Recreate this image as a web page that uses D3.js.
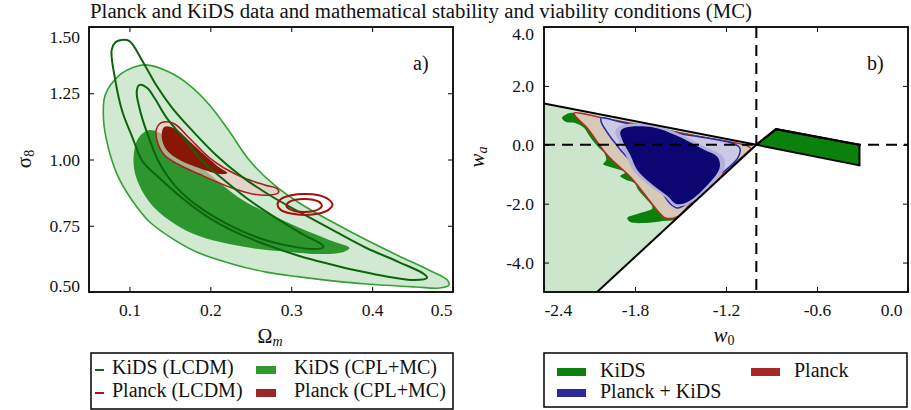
<!DOCTYPE html>
<html lang="en">
<head>
<meta charset="UTF-8">
<title>Planck and KiDS data</title>
<script src="https://cdn.jsdelivr.net/npm/d3@7/dist/d3.min.js"></script>
<style>
  body { margin: 0; background: #fff; }
  svg text { font-family: "Liberation Serif", "Times New Roman", serif; fill: #111; }
  .axis path { display: none; }
  .axis line { stroke: #000; stroke-width: 1; }
  .axis text { font-size: 17.5px; font-family: "Liberation Serif", serif; }
</style>
</head>
<body>
<script>
// ---- panel a) : Omega_m vs sigma_8 ----
var omTicks = [0.1, 0.2, 0.3, 0.4, 0.5];
var s8Ticks = [0.5, 0.75, 1.0, 1.25, 1.5];

// KiDS (CPL+MC) 95% / 68%
var kidsCplOuter = [[0.121,1.357],[0.149,1.330],[0.174,1.281],[0.199,1.206],[0.224,1.104],[0.248,0.998],[0.279,0.904],[0.310,0.836],[0.351,0.764],[0.393,0.696],[0.433,0.636],[0.470,0.583],[0.493,0.545],[0.495,0.526],[0.483,0.515],[0.454,0.519],[0.393,0.530],[0.351,0.542],[0.310,0.557],[0.269,0.575],[0.227,0.606],[0.186,0.647],[0.156,0.696],[0.125,0.764],[0.103,0.847],[0.085,0.942],[0.073,1.055],[0.068,1.149],[0.070,1.243],[0.088,1.319],[0.106,1.349]];
var kidsCplInner = [[0.125,1.111],[0.143,1.092],[0.162,1.055],[0.180,0.998],[0.205,0.930],[0.236,0.855],[0.273,0.794],[0.310,0.742],[0.347,0.696],[0.372,0.666],[0.365,0.651],[0.335,0.643],[0.298,0.651],[0.260,0.662],[0.223,0.681],[0.186,0.711],[0.156,0.757],[0.131,0.817],[0.115,0.885],[0.106,0.960],[0.106,1.036],[0.112,1.085]];
// KiDS (LCDM) lines
var kidsLcdmOuter = [[0.090,1.451],[0.100,1.447],[0.116,1.372],[0.133,1.281],[0.153,1.194],[0.178,1.108],[0.207,1.017],[0.236,0.942],[0.273,0.866],[0.310,0.802],[0.351,0.734],[0.393,0.666],[0.433,0.613],[0.464,0.568],[0.468,0.553],[0.452,0.545],[0.421,0.557],[0.384,0.579],[0.347,0.606],[0.310,0.636],[0.273,0.674],[0.236,0.719],[0.199,0.779],[0.165,0.855],[0.137,0.930],[0.116,0.994],[0.104,1.081],[0.091,1.183],[0.082,1.308],[0.078,1.413],[0.083,1.443]];
var kidsLcdmInner = [[0.112,1.281],[0.122,1.270],[0.131,1.232],[0.146,1.157],[0.170,1.070],[0.190,0.994],[0.217,0.923],[0.248,0.847],[0.285,0.772],[0.316,0.715],[0.337,0.681],[0.340,0.670],[0.328,0.662],[0.298,0.674],[0.260,0.704],[0.223,0.753],[0.186,0.821],[0.159,0.892],[0.137,0.987],[0.125,1.074],[0.114,1.175],[0.109,1.255]];
// Planck (CPL+MC)
var planckCplOuter = [[0.143,1.142],[0.156,1.134],[0.174,1.081],[0.199,1.006],[0.217,0.968],[0.242,0.930],[0.267,0.904],[0.283,0.889],[0.284,0.874],[0.273,0.866],[0.252,0.870],[0.227,0.892],[0.186,0.945],[0.162,0.979],[0.143,1.017],[0.135,1.062],[0.133,1.111],[0.137,1.134]];
var planckCplInner = [[0.143,1.123],[0.157,1.115],[0.174,1.070],[0.193,1.017],[0.209,0.975],[0.221,0.949],[0.211,0.945],[0.186,0.968],[0.162,0.998],[0.146,1.036],[0.140,1.081]];
// Planck (LCDM) lines
var planckLcdmOuter = [[0.351,0.830],[0.346,0.850],[0.334,0.865],[0.317,0.870],[0.300,0.865],[0.287,0.850],[0.283,0.830],[0.287,0.810],[0.300,0.796],[0.317,0.791],[0.334,0.796],[0.346,0.810]];
var planckLcdmInner = [[0.338,0.826],[0.335,0.839],[0.327,0.848],[0.316,0.851],[0.305,0.848],[0.297,0.839],[0.294,0.826],[0.297,0.814],[0.305,0.805],[0.316,0.802],[0.327,0.805],[0.335,0.814]];

// ---- panel b) : w0 vs wa ----
var w0Ticks = [-2.4, -1.8, -1.2, -0.6, 0.0];
var waTicks = [-4, -2, 0, 2, 4];
var mcUpper = [[-2.4,1.4],[-1.0,0.0],[-0.87,0.53],[-0.32,0.0]];
var mcLower = [[-1.0,0.0],[-2.05,-5.0]];
var mcRegion = [[-2.4,1.4],[-1.0,0.0],[-2.05,-5.0],[-2.4,-5.0]];
var kidsRight = [[-1.0,0.0],[-0.87,0.53],[-0.32,0.0],[-0.32,-0.7]];
var kidsB = [[-2.281,0.909],[-2.228,1.079],[-2.029,0.909],[-1.070,-0.076],[-1.050,-0.178],[-1.500,-2.488],[-1.619,-2.590],[-1.732,-2.658],[-1.831,-2.624],[-1.851,-2.488],[-1.765,-2.318],[-1.685,-2.148],[-1.732,-1.808],[-1.778,-1.537],[-1.804,-1.299],[-1.857,-1.197],[-1.897,-1.061],[-1.857,-0.925],[-1.897,-0.857],[-1.963,-0.755],[-2.010,-0.654],[-1.990,-0.518],[-2.003,-0.280],[-2.043,-0.076],[-2.082,0.162],[-2.109,0.366],[-2.135,0.569],[-2.195,0.739],[-2.254,0.773]];
var planckB = [[-2.201,1.079],[-2.029,0.93],[-1.698,0.60],[-1.368,0.27],[-1.070,-0.02],[-1.037,-0.12],[-1.070,-0.30],[-1.235,-1.08],[-1.434,-2.0],[-1.520,-2.44],[-1.599,-2.488],[-1.632,-2.35],[-1.692,-1.978],[-1.824,-1.129],[-1.983,-0.348],[-2.115,0.569],[-2.188,0.943]];
var bothOuter = [[-2.023,0.909],[-1.897,0.773],[-1.500,0.37],[-1.162,0.06],[-1.109,-0.11],[-1.123,-0.45],[-1.295,-1.25],[-1.473,-2.046],[-1.520,-2.148],[-1.566,-2.01],[-1.672,-1.265],[-1.824,-0.586],[-1.957,0.230],[-2.023,0.773]];
var bothMid = [[-1.89,0.66],[-1.69,0.68],[-1.50,0.36],[-1.32,-0.12],[-1.22,-0.40],[-1.21,-0.80],[-1.32,-1.52],[-1.45,-2.02],[-1.53,-2.08],[-1.60,-1.78],[-1.72,-1.33],[-1.81,-0.88],[-1.86,-0.36],[-1.91,0.16],[-1.93,0.45]];
var bothInner = [[-1.871,0.569],[-1.692,0.603],[-1.520,0.30],[-1.341,-0.178],[-1.255,-0.42],[-1.242,-0.789],[-1.341,-1.469],[-1.454,-1.944],[-1.527,-2.01],[-1.586,-1.74],[-1.698,-1.30],[-1.785,-0.857],[-1.831,-0.348],[-1.884,0.162],[-1.897,0.43]];

// legends
var legendALabels = ["KiDS (LCDM)", "Planck (LCDM)", "KiDS (CPL+MC)", "Planck (CPL+MC)"];
var legendAColors = ["#0c650c", "#a51515", "#2e9a2e", "#9b2626"];
var legendBLabels = ["KiDS", "Planck + KiDS", "Planck"];
var legendBColors = ["#0b800b", "#2a2a9c", "#a52828"];

var W = 911, H = 410;
var svg = d3.select("body").append("svg").attr("width", W).attr("height", H);

svg.append("text").attr("x", 421).attr("y", 18).attr("text-anchor", "middle")
   .style("font-size", "20.8px")
   .text("Planck and KiDS data and mathematical stability and viability conditions (MC)");

var yTop = 27, yBot = 292;

//----- panel a -----
var xa = d3.scaleLinear().domain([0.05, 0.5]).range([89, 453]);
var ya = d3.scaleLinear().domain([0.5, 1.5]).range([yBot, yTop]);

svg.append("clipPath").attr("id", "clipA").append("rect")
   .attr("x", 89).attr("y", yTop).attr("width", 364).attr("height", yBot - yTop);
var pa = svg.append("g").attr("clip-path", "url(#clipA)");

var lineA = d3.line().x(function(d) { return xa(d[0]); }).y(function(d) { return ya(d[1]); })
              .curve(d3.curveCatmullRomClosed.alpha(0.5));

pa.append("path").attr("d", lineA(kidsCplOuter)).attr("fill", "#d0e9d0").attr("stroke", "#33a033").attr("stroke-width", 1.6);
pa.append("path").attr("d", lineA(kidsCplInner)).attr("fill", "#2e962e").attr("stroke", "none");
pa.append("path").attr("d", lineA(planckCplOuter)).attr("fill", "#f0c6c6").attr("fill-opacity", 0.6).attr("stroke", "#a82020").attr("stroke-width", 1.6);
pa.append("path").attr("d", lineA(planckCplInner)).attr("fill", "#8a1606").attr("stroke", "none");
[kidsLcdmOuter, kidsLcdmInner].forEach(function(c) {
  pa.append("path").attr("d", lineA(c)).attr("fill", "none").attr("stroke", "#0c650c").attr("stroke-width", 2);
});
[planckLcdmOuter, planckLcdmInner].forEach(function(c) {
  pa.append("path").attr("d", lineA(c)).attr("fill", "none").attr("stroke", "#a01010").attr("stroke-width", 2);
});

svg.append("rect").attr("x", 89).attr("y", yTop).attr("width", 364).attr("height", yBot - yTop)
   .attr("fill", "none").attr("stroke", "#000").attr("stroke-width", 1.8);

var axA = svg.append("g").attr("class", "axis").attr("transform", "translate(0," + yBot + ")")
   .call(d3.axisBottom(xa).tickValues(omTicks).tickFormat(function(d) { return d.toFixed(1); })
         .tickSizeInner(-5).tickSizeOuter(0).tickPadding(12));
axA.selectAll(".tick text").filter(function(d) { return d === 0.5; }).attr("text-anchor", "end").attr("dx", -1);
svg.append("g").attr("class", "axis").attr("transform", "translate(0," + yTop + ")")
   .call(d3.axisTop(xa).tickValues(omTicks.slice(0, 4)).tickFormat("").tickSizeInner(-5).tickSizeOuter(0));
var ayA = svg.append("g").attr("class", "axis").attr("transform", "translate(89,0)")
   .call(d3.axisLeft(ya).tickValues(s8Ticks).tickFormat(function(d) { return d.toFixed(2); })
         .tickSizeInner(-5).tickSizeOuter(0).tickPadding(9));
ayA.selectAll(".tick text").filter(function(d) { return d === 1.5; }).attr("dy", "15px");
ayA.selectAll(".tick text").filter(function(d) { return d === 0.5; }).attr("dy", "-1px");
svg.append("g").attr("class", "axis").attr("transform", "translate(453,0)")
   .call(d3.axisRight(ya).tickValues([0.75, 1.0, 1.25]).tickFormat("").tickSizeInner(-5).tickSizeOuter(0));

svg.append("text").attr("x", 413).attr("y", 70).style("font-size", "20px").text("a)");

var omLab = svg.append("text").attr("x", 270).attr("y", 343).attr("text-anchor", "middle").style("font-size", "20px");
omLab.append("tspan").text("Ω");
omLab.append("tspan").attr("font-style", "italic").attr("font-size", "14px").attr("dy", 3).text("m");

var s8Lab = svg.append("text").attr("transform", "translate(31,159) rotate(-90)").attr("text-anchor", "middle").style("font-size", "21px");
s8Lab.append("tspan").text("σ");
s8Lab.append("tspan").attr("font-size", "14px").attr("dy", 3).text("8");

//----- panel b -----
var xb = d3.scaleLinear().domain([-2.4, 0]).range([544, 908]);
var yb = d3.scaleLinear().domain([-5, 4]).range([yBot, yTop]);

var lineB = d3.line().x(function(d) { return xb(d[0]); }).y(function(d) { return yb(d[1]); });
var smoothB = d3.line().x(function(d) { return xb(d[0]); }).y(function(d) { return yb(d[1]); })
                .curve(d3.curveCatmullRomClosed.alpha(0.5));

svg.append("clipPath").attr("id", "clipB").append("rect")
   .attr("x", 544).attr("y", yTop).attr("width", 364).attr("height", yBot - yTop);
svg.append("clipPath").attr("id", "clipMC").append("path").attr("d", lineB(mcRegion) + "Z");
var pb = svg.append("g").attr("clip-path", "url(#clipB)");

pb.append("path").attr("d", lineB(mcRegion) + "Z").attr("fill", "#cce6cc");
var pc = pb.append("g").attr("clip-path", "url(#clipMC)");
pc.append("path").attr("d", smoothB(kidsB)).attr("fill", "#0b800b");
pc.append("path").attr("d", smoothB(planckB)).attr("fill", "#d6c9b6").attr("stroke", "#b02a2a").attr("stroke-width", 1.5);
pc.append("path").attr("d", smoothB(bothOuter)).attr("fill", "#cbc9e4").attr("stroke", "#2a2aa8").attr("stroke-width", 1.5);
pc.append("path").attr("d", smoothB(bothMid)).attr("fill", "#b3afda");
pc.append("path").attr("d", smoothB(bothInner)).attr("fill", "#0c0672");

pb.append("line").attr("x1", xb(-2.4)).attr("x2", xb(0)).attr("y1", yb(0)).attr("y2", yb(0))
  .attr("stroke", "#000").attr("stroke-width", 2).attr("stroke-dasharray", "11,7");
pb.append("line").attr("x1", xb(-1)).attr("x2", xb(-1)).attr("y1", yb(4)).attr("y2", yb(-5))
  .attr("stroke", "#000").attr("stroke-width", 2).attr("stroke-dasharray", "11,7");

pb.append("path").attr("d", lineB(kidsRight) + "Z").attr("fill", "#0b800b").attr("stroke", "#000").attr("stroke-width", 2);
pb.append("path").attr("d", lineB(mcUpper)).attr("fill", "none").attr("stroke", "#000").attr("stroke-width", 2);
pb.append("path").attr("d", lineB(mcLower)).attr("fill", "none").attr("stroke", "#000").attr("stroke-width", 2);

svg.append("rect").attr("x", 544).attr("y", yTop).attr("width", 364).attr("height", yBot - yTop)
   .attr("fill", "none").attr("stroke", "#000").attr("stroke-width", 1.8);

var axB = svg.append("g").attr("class", "axis").attr("transform", "translate(0," + yBot + ")")
   .call(d3.axisBottom(xb).tickValues(w0Ticks).tickFormat(function(d) { return d.toFixed(1); })
         .tickSizeInner(-5).tickSizeOuter(0).tickPadding(12));
axB.selectAll(".tick text").filter(function(d) { return d === -2.4; }).attr("text-anchor", "start").attr("dx", 0);
axB.selectAll(".tick text").filter(function(d) { return d === 0; }).attr("text-anchor", "end").attr("dx", -6);
svg.append("g").attr("class", "axis").attr("transform", "translate(0," + yTop + ")")
   .call(d3.axisTop(xb).tickValues(w0Ticks.slice(1, 4)).tickFormat("").tickSizeInner(-5).tickSizeOuter(0));
var ayB = svg.append("g").attr("class", "axis").attr("transform", "translate(544,0)")
   .call(d3.axisLeft(yb).tickValues(waTicks).tickFormat(function(d) { return d.toFixed(1); })
         .tickSizeInner(-5).tickSizeOuter(0).tickPadding(10));
ayB.selectAll(".tick text").filter(function(d) { return d === 4; }).attr("dy", "12px");
svg.append("g").attr("class", "axis").attr("transform", "translate(908,0)")
   .call(d3.axisRight(yb).tickValues([-4, -2, 0, 2]).tickFormat("").tickSizeInner(-5).tickSizeOuter(0));

svg.append("text").attr("x", 867).attr("y", 70).style("font-size", "20px").text("b)");

var w0Lab = svg.append("text").attr("x", 724).attr("y", 342).attr("text-anchor", "middle").style("font-size", "21px");
w0Lab.append("tspan").attr("font-style", "italic").text("w");
w0Lab.append("tspan").attr("font-size", "14px").attr("dy", 3).text("0");

var waLab = svg.append("text").attr("transform", "translate(484,157) rotate(-90)").attr("text-anchor", "middle").style("font-size", "21px");
waLab.append("tspan").attr("font-style", "italic").text("w");
waLab.append("tspan").attr("font-style", "italic").attr("font-size", "14px").attr("dy", 3).text("a");

//----- legends -----
var legA = svg.append("g");
legA.append("rect").attr("x", 91).attr("y", 353).attr("width", 362).attr("height", 56)
    .attr("fill", "#fff").attr("stroke", "#000").attr("stroke-width", 1.5);
legendALabels.forEach(function(lab, i) {
  var col = Math.floor(i / 2), row = i % 2;
  var yy = 370 + row * 23;
  if (col === 0) {
    legA.append("line").attr("x1", 95).attr("x2", 104).attr("y1", yy).attr("y2", yy)
        .attr("stroke", legendAColors[i]).attr("stroke-width", 2);
    legA.append("text").attr("x", 112).attr("y", yy + 4).style("font-size", "20px").text(lab);
  } else {
    legA.append("rect").attr("x", 256).attr("y", yy - 4).attr("width", 20).attr("height", 8).attr("fill", legendAColors[i]);
    legA.append("text").attr("x", 294).attr("y", yy + 4).style("font-size", "20px").text(lab);
  }
});

var legB = svg.append("g");
legB.append("rect").attr("x", 544).attr("y", 353).attr("width", 363).attr("height", 54)
    .attr("fill", "#fff").attr("stroke", "#000").attr("stroke-width", 1.5);
legendBLabels.forEach(function(lab, i) {
  var col = i < 2 ? 0 : 1, row = i < 2 ? i : 0;
  var yy = 372 + row * 21;
  var px = col === 0 ? 557 : 751;
  legB.append("rect").attr("x", px).attr("y", yy - 4).attr("width", 29).attr("height", 8).attr("fill", legendBColors[i]);
  legB.append("text").attr("x", px + 43).attr("y", yy + 5).style("font-size", "20px").text(lab);
});
</script>
</body>
</html>
